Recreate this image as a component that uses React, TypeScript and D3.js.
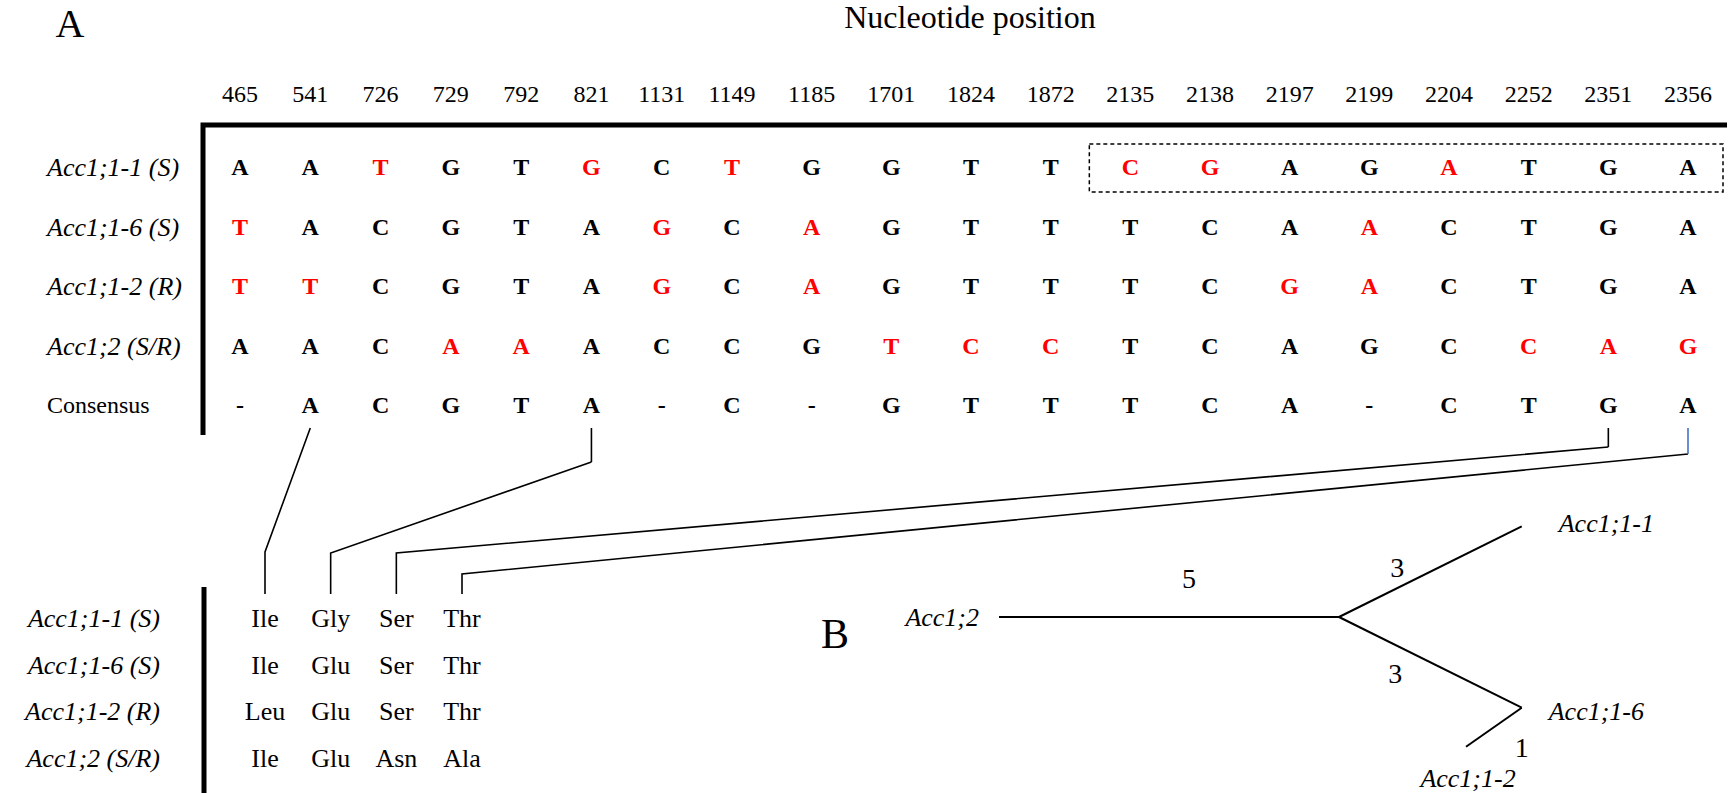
import React, { useEffect, useRef } from 'react';
import * as d3 from 'd3';

// nucleotide positions shown as column headers
const positions = ['465', '541', '726', '729', '792', '821', '1131', '1149', '1185', '1701', '1824', '1872', '2135', '2138', '2197', '2199', '2204', '2252', '2351', '2356'];

// sequences, one letter per position
const seqNames = ['Acc1;1-1 (S)', 'Acc1;1-6 (S)', 'Acc1;1-2 (R)', 'Acc1;2 (S/R)', 'Consensus'];
const acc11 = 'AATGTGCTGGTTCGAGATGA'.split('');
const acc16 = 'TACGTAGCAGTTTCAACTGA'.split('');
const acc12 = 'TTCGTAGCAGTTTCGACTGA'.split('');
const acc2 = 'AACAAACCGTCCTCAGCCAG'.split('');
const consensus = '-ACGTA-C-GTTTCA-CTGA'.split('');

// positions printed in red for each sequence
const red11 = ['726', '821', '1149', '2135', '2138', '2204'];
const red16 = ['465', '1131', '1185', '2199'];
const red12 = ['465', '541', '1131', '1185', '2197', '2199'];
const red2 = ['729', '792', '1701', '1824', '1872', '2252', '2351', '2356'];

// boxed stretch on Acc1;1-1
const boxFrom = '2135';
const boxTo = '2356';

// amino acid changes
const aaSites = ['541', '821', '2351', '2356'];
const aaNames = ['Acc1;1-1 (S)', 'Acc1;1-6 (S)', 'Acc1;1-2 (R)', 'Acc1;2 (S/R)'];
const aa11 = ['Ile', 'Gly', 'Ser', 'Thr'];
const aa16 = ['Ile', 'Glu', 'Ser', 'Thr'];
const aa12 = ['Leu', 'Glu', 'Ser', 'Thr'];
const aa2 = ['Ile', 'Glu', 'Asn', 'Ala'];

// tree (B): tips, their parent and branch length
const treeTips = ['Acc1;2', 'Acc1;1-1', 'Acc1;1-6', 'Acc1;1-2'];
const treeParent = ['hub', 'hub', 'hub', 'Acc1;1-6'];
const branchLength = [5, 3, 3, 1];

const W = 1736;
const H = 793;
const serif = '"Liberation Serif", "Times New Roman", Times, serif';

const Figure = () => {
  const svgRef = useRef<SVGSVGElement>(null);

  useEffect(() => {
    const svg = d3.select(svgRef.current);
    svg.selectAll('*').remove();
    svg.style('font-family', serif);

    const seqs = [acc11, acc16, acc12, acc2, consensus];
    const reds = [red11, red16, red12, red2, []];

    // columns 465-1149 sit a bit tighter than the rest
    const x = d3.scaleLinear().domain([0, 7, positions.length - 1]).range([240, 732, 1688]);
    const y = d3.scalePoint<string>().domain(seqNames).range([167, 405]);

    svg.append('text').attr('x', 70).attr('y', 37).attr('text-anchor', 'middle')
      .attr('font-size', 40).text('A');
    svg.append('text').attr('x', 970).attr('y', 28).attr('text-anchor', 'middle')
      .attr('font-size', 32).text('Nucleotide position');

    // column headers
    svg.append('g').selectAll('text').data(positions).join('text')
      .attr('x', (d, i) => x(i)).attr('y', 102).attr('text-anchor', 'middle')
      .attr('font-size', 24).text((d) => d);

    // frame
    svg.append('path').attr('d', 'M203,435 V125 H1727')
      .attr('fill', 'none').attr('stroke', '#000').attr('stroke-width', 5);

    // row labels
    svg.append('g').selectAll('text').data(seqNames).join('text')
      .attr('x', 47).attr('y', (d) => y(d)!).attr('dy', '0.35em')
      .attr('font-size', (d) => (d === 'Consensus' ? 24 : 26))
      .attr('font-style', (d) => (d === 'Consensus' ? 'normal' : 'italic'))
      .text((d) => d);

    // letters
    seqNames.forEach((name, r) => {
      svg.append('g').selectAll('text').data(seqs[r]).join('text')
        .attr('x', (d, i) => x(i)).attr('y', y(name)!).attr('dy', '0.35em')
        .attr('text-anchor', 'middle').attr('font-size', 24).attr('font-weight', 'bold')
        .attr('fill', (d, i) => (reds[r].includes(positions[i]) ? '#ff0000' : '#000'))
        .text((d) => d);
    });

    // dashed box on Acc1;1-1
    const bx0 = x(positions.indexOf(boxFrom)) - 41;
    const bx1 = x(positions.indexOf(boxTo)) + 35;
    svg.append('rect').attr('x', bx0).attr('y', y(seqNames[0])! - 23)
      .attr('width', bx1 - bx0).attr('height', 48)
      .attr('fill', 'none').attr('stroke', '#000').attr('stroke-width', 1.5)
      .attr('stroke-dasharray', '4,3');

    // amino acid table
    const ax = d3.scalePoint<string>().domain(aaSites).range([265, 462]);
    const ay = d3.scalePoint<string>().domain(aaNames).range([618, 758]);
    const aas = [aa11, aa16, aa12, aa2];

    svg.append('line').attr('x1', 204).attr('x2', 204).attr('y1', 587).attr('y2', H)
      .attr('stroke', '#000').attr('stroke-width', 5);

    svg.append('g').selectAll('text').data(aaNames).join('text')
      .attr('x', 160).attr('y', (d) => ay(d)!).attr('dy', '0.35em')
      .attr('text-anchor', 'end').attr('font-size', 26).attr('font-style', 'italic')
      .text((d) => d);

    aaNames.forEach((name, r) => {
      svg.append('g').selectAll('text').data(aas[r]).join('text')
        .attr('x', (d, i) => ax(aaSites[i])!).attr('y', ay(name)!).attr('dy', '0.35em')
        .attr('text-anchor', 'middle').attr('font-size', 26).text((d) => d);
    });

    // links from consensus column to amino acid column
    const stub = [0, 34, 19, 26];
    const knee = [552, 553, 553, 574];
    const stubColor = ['#000', '#000', '#000', '#4472c4'];
    aaSites.forEach((site, i) => {
      const x0 = x(positions.indexOf(site));
      const x1 = ax(site)!;
      const top = 428;
      svg.append('path')
        .attr('d', `M${x0},${top + stub[i]} L${x1},${knee[i]} V594`)
        .attr('fill', 'none').attr('stroke', '#000').attr('stroke-width', 1.6);
      if (stub[i] > 0) {
        svg.append('line').attr('x1', x0).attr('x2', x0).attr('y1', top).attr('y2', top + stub[i])
          .attr('stroke', stubColor[i]).attr('stroke-width', 1.6);
      }
    });

    // tree
    svg.append('text').attr('x', 835).attr('y', 648).attr('text-anchor', 'middle')
      .attr('font-size', 42).text('B');

    const len = d3.scaleLinear().domain([0, 1]).range([0, 68]);
    const angle: Record<string, number> = { 'Acc1;2': 180, 'Acc1;1-1': -26.4, 'Acc1;1-6': 26.4, 'Acc1;1-2': 145 };
    const pos: Record<string, [number, number]> = { hub: [1339, 617] };
    const tipLabel: Record<string, [number, number, string]> = {
      'Acc1;2': [-20, 0, 'end'],
      'Acc1;1-1': [37, -3, 'start'],
      'Acc1;1-6': [27, 3, 'start'],
      'Acc1;1-2': [2, 31, 'middle'],
    };
    const lenLabel: [number, number][] = [[20, -39], [-33, -4], [-35, 11], [28, 20]];

    treeTips.forEach((tip, i) => {
      const [px, py] = pos[treeParent[i]];
      const a = (angle[tip] * Math.PI) / 180;
      const l = len(branchLength[i]);
      const tx = px + Math.cos(a) * l;
      const ty = py + Math.sin(a) * l;
      pos[tip] = [tx, ty];

      svg.append('line').attr('x1', px).attr('y1', py).attr('x2', tx).attr('y2', ty)
        .attr('stroke', '#000').attr('stroke-width', 2);

      svg.append('text')
        .attr('x', (px + tx) / 2 + lenLabel[i][0]).attr('y', (py + ty) / 2 + lenLabel[i][1])
        .attr('dy', '0.35em').attr('text-anchor', 'middle').attr('font-size', 28)
        .text(branchLength[i]);

      const [ox, oy, anchor] = tipLabel[tip];
      svg.append('text').attr('x', tx + ox).attr('y', ty + oy).attr('dy', '0.35em')
        .attr('text-anchor', anchor).attr('font-size', 26).attr('font-style', 'italic')
        .text(tip);
    });
  }, []);

  return (
    <svg
      ref={svgRef}
      width={W}
      height={H}
      style={{ position: 'absolute', left: 0, top: 0, background: '#fff' }}
    />
  );
};

export default function App() {
  return <Figure />;
}
